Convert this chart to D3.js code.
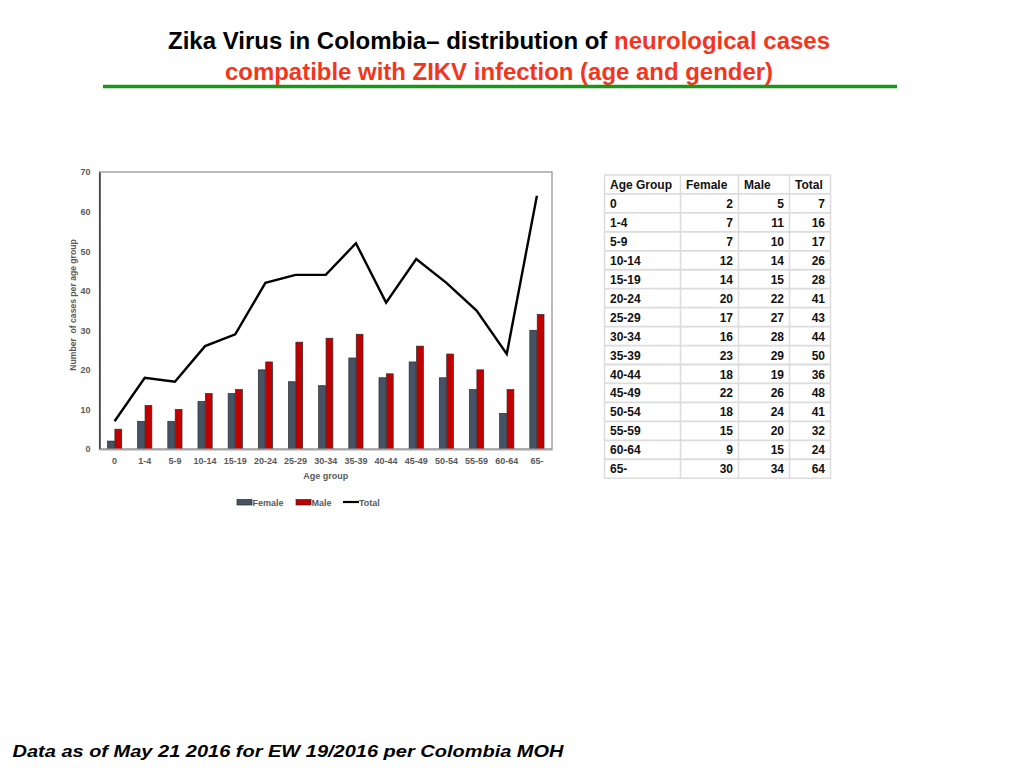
<!DOCTYPE html>
<html>
<head>
<meta charset="utf-8">
<script src="https://cdn.jsdelivr.net/npm/d3@7"></script>
<style>
  html, body { margin: 0; padding: 0; background: #fff; }
  svg { display: block; font-family: "Liberation Sans", Arial, Helvetica, sans-serif; }
</style>
</head>
<body>
<svg id="chart" width="1024" height="768"></svg>
<script>
// ---- data ----
const ageGroups = ["0","1-4","5-9","10-14","15-19","20-24","25-29","30-34","35-39","40-44","45-49","50-54","55-59","60-64","65-"];
const female = [2,7,7,12,14,20,17,16,23,18,22,18,15,9,30];
const male   = [5,11,10,14,15,22,27,28,29,19,26,24,20,15,34];
// Total line as plotted in the chart
const totalLine = [7,18,17,26,29,42,44,44,52,37,48,42,35,24,64];
// Total column as printed in the table
const tableTotal = [7,16,17,26,28,41,43,44,50,36,48,41,32,24,64];
const yTicks = [0,10,20,30,40,50,60,70];
const seriesNames = ["Female","Male"];
const tableHeaders = ["Age Group","Female","Male","Total"];

const svg = d3.select("#chart");
const grey = "#595959";

// ---- title ----
const t1 = svg.append("text").attr("x", 499).attr("y", 48.5)
  .attr("text-anchor", "middle").attr("font-size", 23).attr("font-weight", "bold")
  .attr("textLength", 662).attr("lengthAdjust", "spacingAndGlyphs");
t1.append("tspan").attr("fill", "#000").text("Zika Virus in Colombia\u2013  distribution of ");
t1.append("tspan").attr("fill", "#f2361d").text("neurological cases");
svg.append("text").attr("x", 499).attr("y", 79.5)
  .attr("text-anchor", "middle").attr("font-size", 23).attr("font-weight", "bold")
  .attr("fill", "#f2361d")
  .attr("textLength", 548).attr("lengthAdjust", "spacingAndGlyphs")
  .text("compatible with ZIKV infection (age and gender)");
svg.append("line").attr("x1", 103).attr("x2", 897).attr("y1", 86.5).attr("y2", 86.5)
  .attr("stroke", "#1a961a").attr("stroke-width", 3.5);

// ---- chart ----
const plot = { left: 99.5, right: 552, top: 172, bottom: 449 };
const x = d3.scaleBand().domain(ageGroups).range([plot.left, plot.right])
  .paddingInner(0.49).paddingOuter(0.245);
const xs = d3.scaleBand().domain(seriesNames).range([0, x.bandwidth()]).padding(0.08);
const y = d3.scaleLinear().domain([0, 70]).range([plot.bottom, plot.top]);
const colors = { Female: "#465366", Male: "#c00000" };

// border (top/right grey)
svg.append("rect").attr("x", plot.left).attr("y", plot.top)
  .attr("width", plot.right - plot.left).attr("height", plot.bottom - plot.top)
  .attr("fill", "none").attr("stroke", "#8c8c8c").attr("stroke-width", 1.2);

// y axis
const yAxis = svg.append("g").attr("transform", `translate(${plot.left},0)`)
  .call(d3.axisLeft(y).tickValues(yTicks).tickSize(0).tickPadding(9));
yAxis.select(".domain").attr("stroke", "#222").attr("stroke-width", 1.3);
yAxis.selectAll("text").attr("font-size", 9).attr("font-weight", "bold").attr("fill", grey)
  .attr("font-family", "'Liberation Sans', Arial, sans-serif");

// bars
const series = [female, male];
seriesNames.forEach((name, si) => {
  svg.append("g").selectAll("rect").data(series[si]).join("rect")
    .attr("x", (d, i) => x(ageGroups[i]) + xs(name))
    .attr("y", d => y(d))
    .attr("width", xs.bandwidth())
    .attr("height", d => y(0) - y(d))
    .attr("fill", colors[name])
    .attr("stroke", "#2a2a2a").attr("stroke-width", 0.7);
});

// x axis
const xAxis = svg.append("g").attr("transform", `translate(0,${plot.bottom})`)
  .call(d3.axisBottom(x).tickSize(0).tickPadding(9));
xAxis.select(".domain").attr("stroke", "#a6a6a6").attr("stroke-width", 2);
xAxis.selectAll("text").attr("font-size", 9).attr("font-weight", "bold").attr("fill", grey)
  .attr("font-family", "'Liberation Sans', Arial, sans-serif");

// total line
const line = d3.line()
  .x((d, i) => x(ageGroups[i]) + x.bandwidth() / 2)
  .y(d => y(d));
svg.append("path").datum(totalLine).attr("d", line)
  .attr("fill", "none").attr("stroke", "#000").attr("stroke-width", 2.4)
  .attr("stroke-linejoin", "miter");

// axis titles
svg.append("text").attr("x", (plot.left + plot.right) / 2).attr("y", 478.5)
  .attr("text-anchor", "middle").attr("font-size", 9).attr("font-weight", "bold").attr("fill", grey)
  .text("Age group");
svg.append("text").attr("transform", "translate(76,305) rotate(-90)")
  .attr("text-anchor", "middle").attr("font-size", 8.6).attr("font-weight", "bold").attr("fill", grey)
  .attr("xml:space", "preserve")
  .text("Number  of cases per age group");

// legend
const legend = svg.append("g").attr("font-size", 9).attr("font-weight", "bold").attr("fill", grey);
legend.append("rect").attr("x", 237).attr("y", 499.5).attr("width", 15).attr("height", 5.5)
  .attr("fill", colors.Female).attr("stroke", "#2a2a2a").attr("stroke-width", 0.7);
legend.append("text").attr("x", 252.5).attr("y", 505.5).text("Female");
legend.append("rect").attr("x", 296).attr("y", 499.5).attr("width", 15).attr("height", 5.5)
  .attr("fill", colors.Male).attr("stroke", "#2a2a2a").attr("stroke-width", 0.7);
legend.append("text").attr("x", 311.5).attr("y", 505.5).text("Male");
legend.append("line").attr("x1", 343).attr("x2", 359).attr("y1", 502).attr("y2", 502)
  .attr("stroke", "#000").attr("stroke-width", 2.2);
legend.append("text").attr("x", 359).attr("y", 505.5).text("Total");

// ---- table ----
const colEdges = [604.5, 680.5, 738.5, 789.5, 830.5];
const rowTop = 175, rowH = 18.95;
const rows = ageGroups.map((g, i) => [g, female[i], male[i], tableTotal[i]]);
const allRows = [tableHeaders].concat(rows);
const tbl = svg.append("g");
tbl.append("rect").attr("x", colEdges[0]).attr("y", rowTop)
  .attr("width", colEdges[4] - colEdges[0]).attr("height", rowH * allRows.length)
  .attr("fill", "#fff").attr("stroke", "#dcdcdc").attr("stroke-width", 1.5);
// horizontal grid
tbl.selectAll("line.h").data(d3.range(1, allRows.length)).join("line")
  .attr("x1", colEdges[0]).attr("x2", colEdges[4])
  .attr("y1", d => rowTop + d * rowH).attr("y2", d => rowTop + d * rowH)
  .attr("stroke", "#dcdcdc").attr("stroke-width", 1.8);
// vertical grid
tbl.selectAll("line.v").data(colEdges.slice(1, 4)).join("line")
  .attr("x1", d => d).attr("x2", d => d)
  .attr("y1", rowTop).attr("y2", rowTop + rowH * allRows.length)
  .attr("stroke", "#dcdcdc").attr("stroke-width", 1.5);
// cells
allRows.forEach((r, ri) => {
  r.forEach((v, ci) => {
    const header = ri === 0;
    const leftAlign = header || ci === 0;
    tbl.append("text")
      .attr("x", leftAlign ? colEdges[ci] + 5.5 : colEdges[ci + 1] - 5.5)
      .attr("y", rowTop + ri * rowH + 14)
      .attr("text-anchor", leftAlign ? "start" : "end")
      .attr("font-size", 12).attr("font-weight", "bold").attr("fill", "#111")
      .text(v);
  });
});

// ---- footer ----
svg.append("text").attr("x", 12.5).attr("y", 757)
  .attr("font-size", 17).attr("font-weight", "bold").attr("font-style", "italic").attr("fill", "#000")
  .attr("textLength", 551).attr("lengthAdjust", "spacingAndGlyphs")
  .text("Data as of May 21 2016 for EW 19/2016 per Colombia MOH");
</script>
</body>
</html>
